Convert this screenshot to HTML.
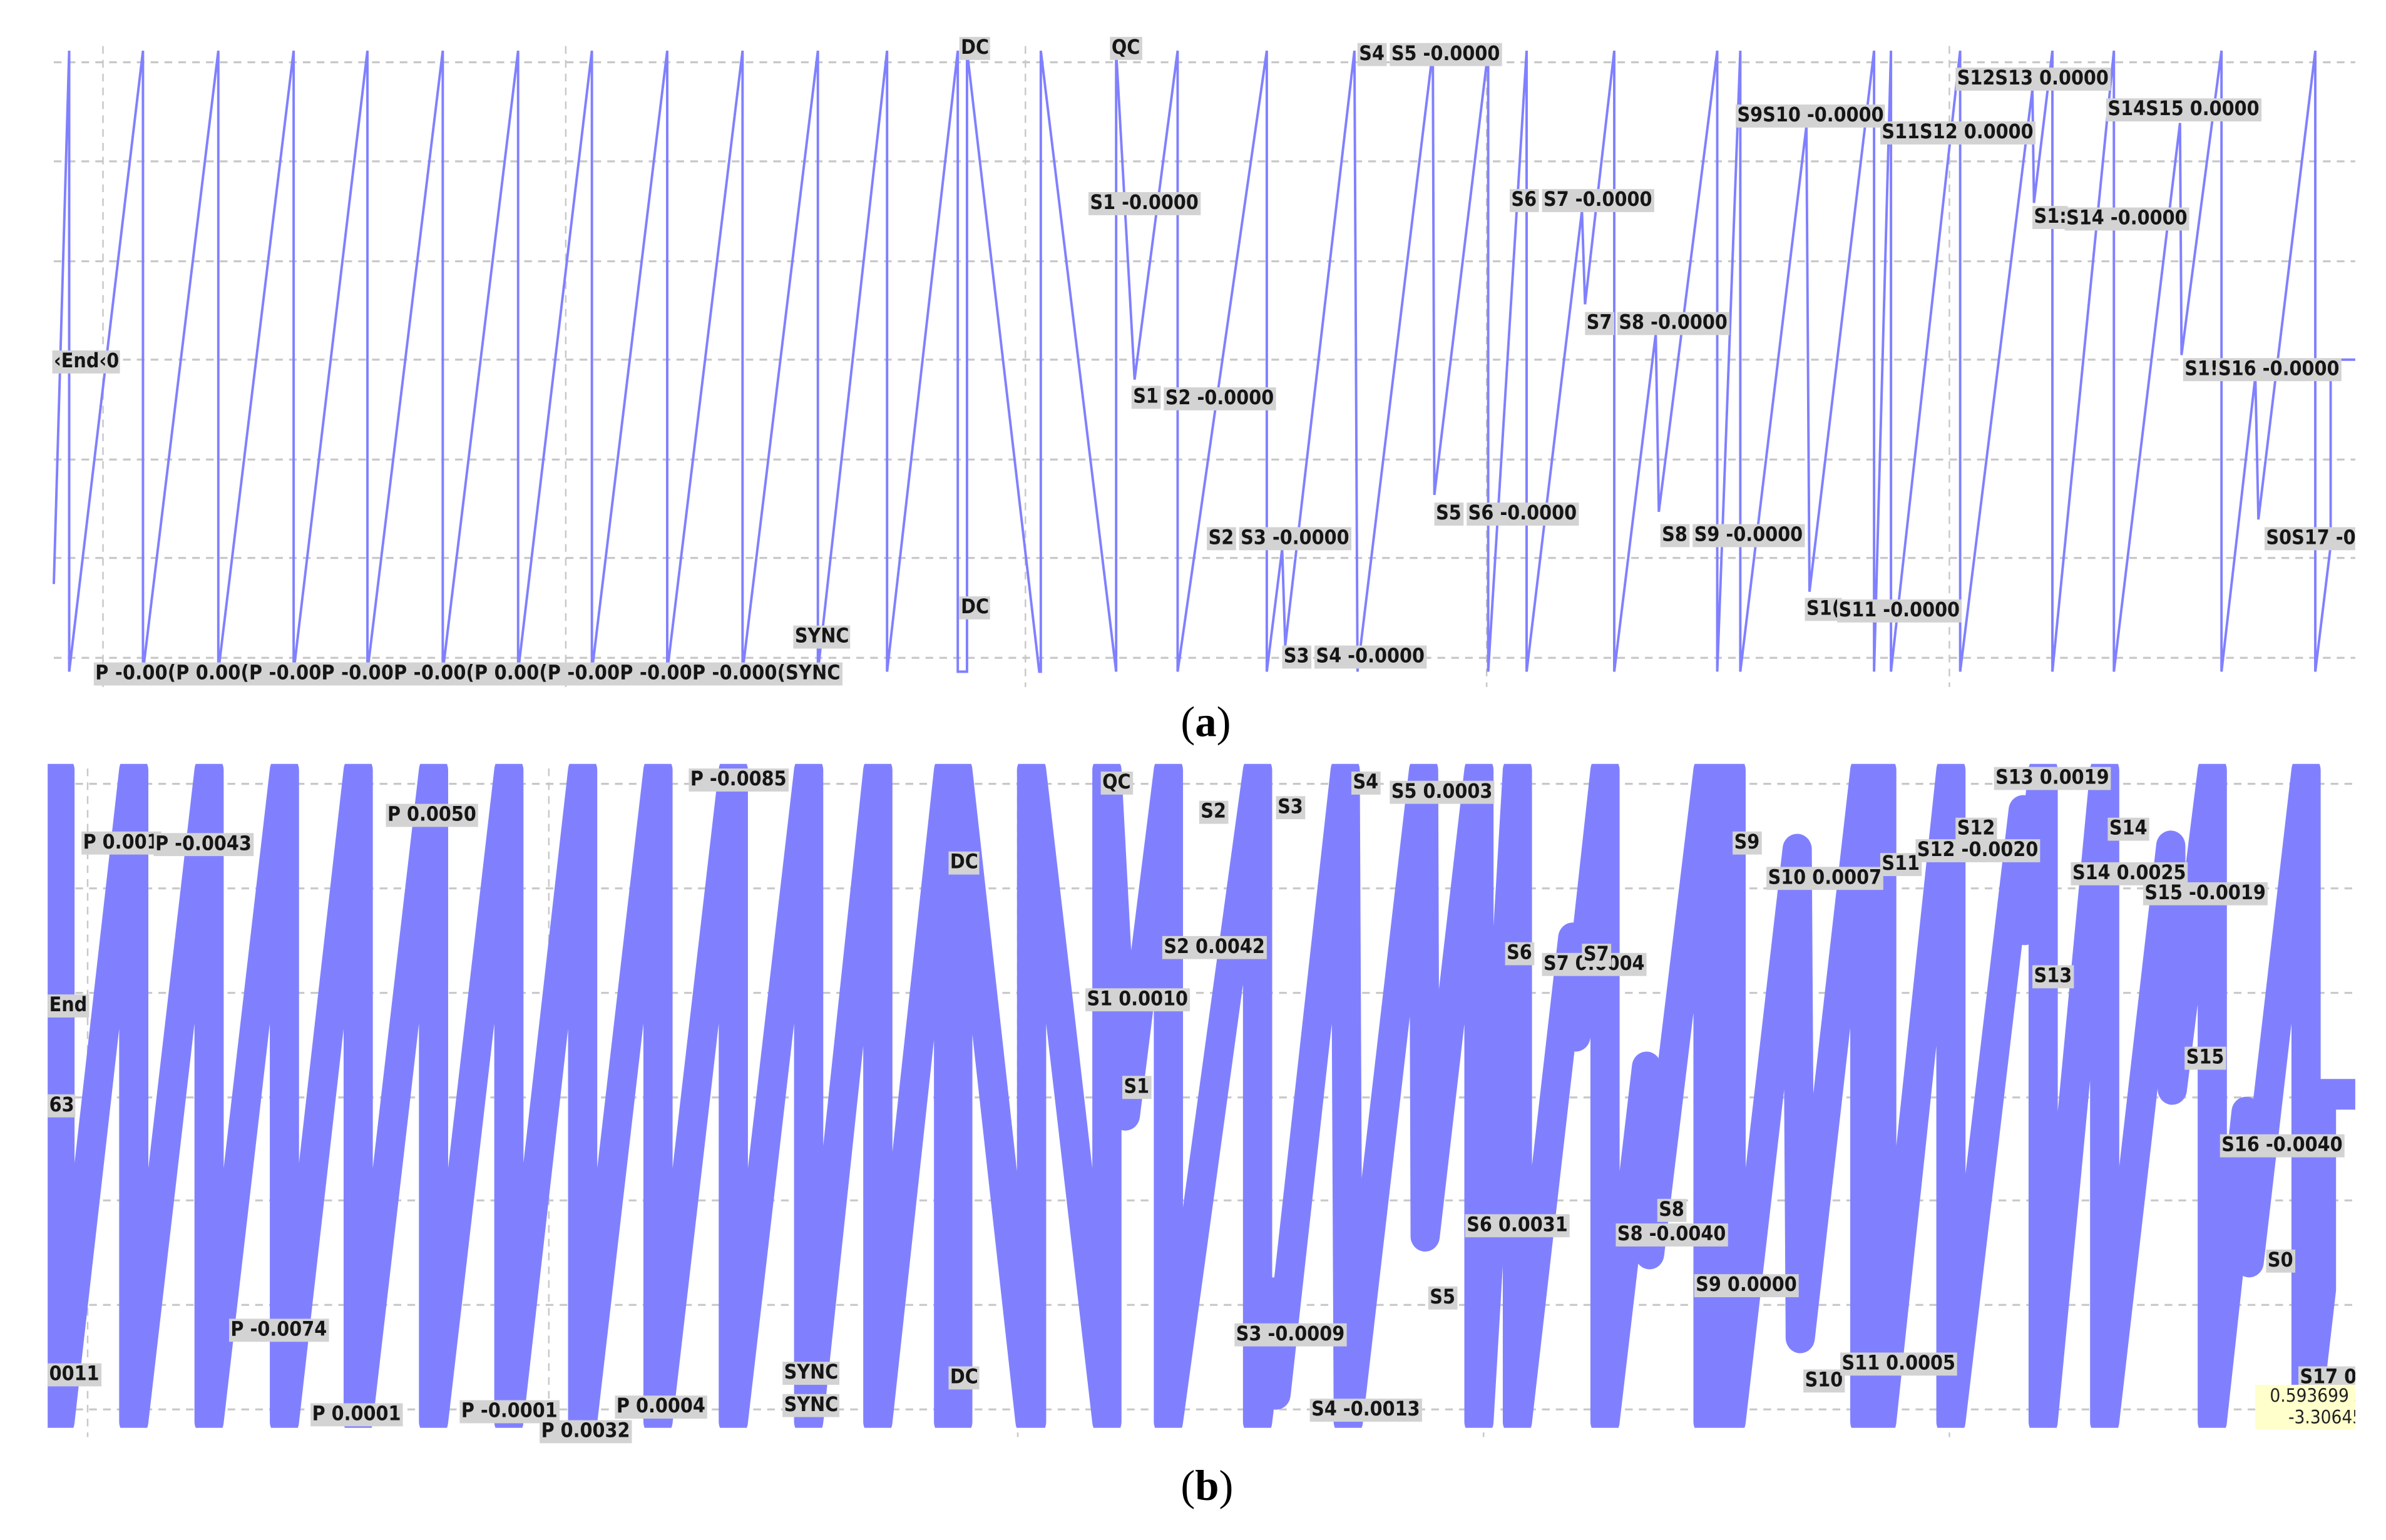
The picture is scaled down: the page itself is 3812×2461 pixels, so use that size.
<!DOCTYPE html>
<html><head><meta charset="utf-8"><style>
html,body{margin:0;padding:0;background:#fff;}
body{width:3812px;height:2460px;overflow:hidden;position:relative;}
#s{position:absolute;left:0;top:0;width:1552px;height:1002px;transform:scale(2.45619);transform-origin:0 0;}
.p{position:absolute;overflow:hidden;}
.l{position:absolute;background:#d3d3d3;font:bold 13px "DejaVu Sans Condensed","DejaVu Sans",sans-serif;line-height:15px;padding:0 1px;color:#151515;white-space:nowrap;}
.cap{position:absolute;font:28px "Liberation Serif",serif;color:#000;}
</style></head><body><div id="s">
<svg width="1552" height="1002" viewBox="0 0 1552 1002" style="position:absolute;left:0;top:0">
<defs>
<clipPath id="ca"><rect x="33" y="25" width="1499" height="422"/></clipPath>
<clipPath id="cb"><rect x="31" y="497" width="1501" height="432"/></clipPath>
<path id="wa" d="M35,380L45,33L45,437L93,33L93,437L142,33L142,437L191,33L191,437L239,33L239,437L288,33L288,437L337,33L337,437L385,33L385,437L434,33L434,437L483,33L483,437L532,33L532,437L577,33L577,437L623,33L623,437L629,437L629,33L676,437L677,437L677,33L726,437L726,33L738,247L766,33L766,437L824,33L824,437L834,357L836,420L881,33L883,437L932,33L933,322L968,33L968,437L993,33L993,437L1029,137L1031,198L1050,33L1050,437L1077,217L1079,333L1117,33L1117,437L1132,33L1132,437L1175,82L1177,385L1219,33L1219,437L1230,33L1230,437L1275,33L1275,437L1322,58L1323,132L1335,33L1335,437L1375,33L1375,437L1418,80L1419,231L1445,33L1445,437L1467,245L1469,338L1506,33L1506,437L1516,355L1516,234L1540,234"/>
</defs>
<g stroke="#c8c8c8" stroke-width="1.3" stroke-dasharray="5,4" fill="none">
<path d="M35,40.5H1532M35,105H1532M35,170H1532M35,234H1532M35,299H1532M35,363H1532M35,428H1532"/>
<path d="M67,30V447M368,30V447M667,30V447M967,30V447M1268,30V447" stroke-width="1"/>
<path d="M31,510H1532M31,578H1532M31,646H1532M31,714H1532M31,781H1532M31,849H1532M31,917H1532"/>
<path d="M57,500V935M357,500V935M662,500V935M965,500V935M1268,500V935" stroke-width="1"/>
</g>
<g clip-path="url(#ca)"><use href="#wa" fill="none" stroke="#8080ff" stroke-width="1.6"/></g>
<g clip-path="url(#cb)"><g transform="translate(-6,466.4) scale(1,1.0495)">
<use href="#wa" fill="none" stroke="#8080ff" stroke-width="19" stroke-linejoin="round"/>
</g></g>
</svg>
<div class="p" style="left:0;top:0;width:1532px;height:460px">
<div class="l" style="left:34px;top:228px">‹End‹0</div>
<div class="l" style="left:61px;top:431px;letter-spacing:0.1px">P -0.00(P 0.00(P -0.00P -0.00P -0.00(P 0.00(P -0.00P -0.00P -0.000(SYNC</div>
<div class="l" style="left:516px;top:407px">SYNC</div>
<div class="l" style="left:624px;top:24px">DC</div>
<div class="l" style="left:624px;top:388px">DC</div>
<div class="l" style="left:722px;top:24px">QC</div>
<div class="l" style="left:708px;top:125px">S1 -0.0000</div>
<div class="l" style="left:736px;top:251px">S1</div>
<div class="l" style="left:757px;top:252px">S2 -0.0000</div>
<div class="l" style="left:785px;top:343px">S2</div>
<div class="l" style="left:806px;top:343px">S3 -0.0000</div>
<div class="l" style="left:834px;top:420px">S3</div>
<div class="l" style="left:855px;top:420px">S4 -0.0000</div>
<div class="l" style="left:883px;top:28px">S4</div>
<div class="l" style="left:904px;top:28px">S5 -0.0000</div>
<div class="l" style="left:933px;top:327px">S5</div>
<div class="l" style="left:954px;top:327px">S6 -0.0000</div>
<div class="l" style="left:982px;top:123px">S6</div>
<div class="l" style="left:1003px;top:123px">S7 -0.0000</div>
<div class="l" style="left:1031px;top:203px">S7</div>
<div class="l" style="left:1052px;top:203px">S8 -0.0000</div>
<div class="l" style="left:1080px;top:341px">S8</div>
<div class="l" style="left:1101px;top:341px">S9 -0.0000</div>
<div class="l" style="left:1129px;top:68px">S9S10 -0.0000</div>
<div class="l" style="left:1174px;top:389px">S1(</div>
<div class="l" style="left:1195px;top:390px">S11 -0.0000</div>
<div class="l" style="left:1223px;top:79px">S11S12 0.0000</div>
<div class="l" style="left:1272px;top:44px">S12S13 0.0000</div>
<div class="l" style="left:1322px;top:134px">S1:</div>
<div class="l" style="left:1343px;top:135px">S14 -0.0000</div>
<div class="l" style="left:1370px;top:64px">S14S15 0.0000</div>
<div class="l" style="left:1420px;top:233px">S1!S16 -0.0000</div>
<div class="l" style="left:1473px;top:343px">S0S17 -0.0</div>
</div>
<div class="p" style="left:0;top:490px;width:1532px;height:460px">
<div class="l" style="left:31px;top:157px">End</div>
<div class="l" style="left:31px;top:222px">63</div>
<div class="l" style="left:31px;top:397px">0011</div>
<div class="l" style="left:53px;top:51px">P 0.001</div>
<div class="l" style="left:100px;top:52px">P -0.0043</div>
<div class="l" style="left:251px;top:33px">P 0.0050</div>
<div class="l" style="left:448px;top:10px">P -0.0085</div>
<div class="l" style="left:149px;top:368px">P -0.0074</div>
<div class="l" style="left:202px;top:423px">P 0.0001</div>
<div class="l" style="left:299px;top:421px">P -0.0001</div>
<div class="l" style="left:351px;top:434px">P 0.0032</div>
<div class="l" style="left:400px;top:418px">P 0.0004</div>
<div class="l" style="left:509px;top:396px">SYNC</div>
<div class="l" style="left:509px;top:417px">SYNC</div>
<div class="l" style="left:617px;top:64px">DC</div>
<div class="l" style="left:617px;top:399px">DC</div>
<div class="l" style="left:716px;top:12px">QC</div>
<div class="l" style="left:780px;top:31px">S2</div>
<div class="l" style="left:830px;top:28px">S3</div>
<div class="l" style="left:879px;top:12px">S4</div>
<div class="l" style="left:904px;top:18px">S5 0.0003</div>
<div class="l" style="left:756px;top:119px">S2 0.0042</div>
<div class="l" style="left:706px;top:153px">S1 0.0010</div>
<div class="l" style="left:730px;top:210px">S1</div>
<div class="l" style="left:803px;top:371px">S3 -0.0009</div>
<div class="l" style="left:852px;top:420px">S4 -0.0013</div>
<div class="l" style="left:929px;top:347px">S5</div>
<div class="l" style="left:953px;top:300px">S6 0.0031</div>
<div class="l" style="left:979px;top:123px">S6</div>
<div class="l" style="left:1003px;top:130px">S7 0.0004</div>
<div class="l" style="left:1029px;top:124px">S7</div>
<div class="l" style="left:1078px;top:290px">S8</div>
<div class="l" style="left:1051px;top:306px">S8 -0.0040</div>
<div class="l" style="left:1102px;top:339px">S9 0.0000</div>
<div class="l" style="left:1127px;top:51px">S9</div>
<div class="l" style="left:1149px;top:74px">S10 0.0007</div>
<div class="l" style="left:1223px;top:65px">S11</div>
<div class="l" style="left:1272px;top:42px">S12</div>
<div class="l" style="left:1246px;top:56px">S12 -0.0020</div>
<div class="l" style="left:1297px;top:9px">S13 0.0019</div>
<div class="l" style="left:1322px;top:138px">S13</div>
<div class="l" style="left:1371px;top:42px">S14</div>
<div class="l" style="left:1347px;top:71px">S14 0.0025</div>
<div class="l" style="left:1394px;top:84px">S15 -0.0019</div>
<div class="l" style="left:1421px;top:191px">S15</div>
<div class="l" style="left:1444px;top:248px">S16 -0.0040</div>
<div class="l" style="left:1474px;top:323px">S0</div>
<div class="l" style="left:1173px;top:401px">S10</div>
<div class="l" style="left:1197px;top:390px">S11 0.0005</div>
<div class="l" style="left:1495px;top:399px">S17 0.0</div>
<div style="position:absolute;left:1467px;top:411px;width:70px;height:29px;background:#ffffcc;font:12px 'DejaVu Sans Condensed','DejaVu Sans',sans-serif;line-height:14px;color:#222;text-align:right;white-space:nowrap">0.593699 s<br>-3.30645</div>
</div>
<div class="cap" style="left:768px;top:455px">(<b>a</b>)</div>
<div class="cap" style="left:768px;top:952px">(<b>b</b>)</div>
</div></body></html>
